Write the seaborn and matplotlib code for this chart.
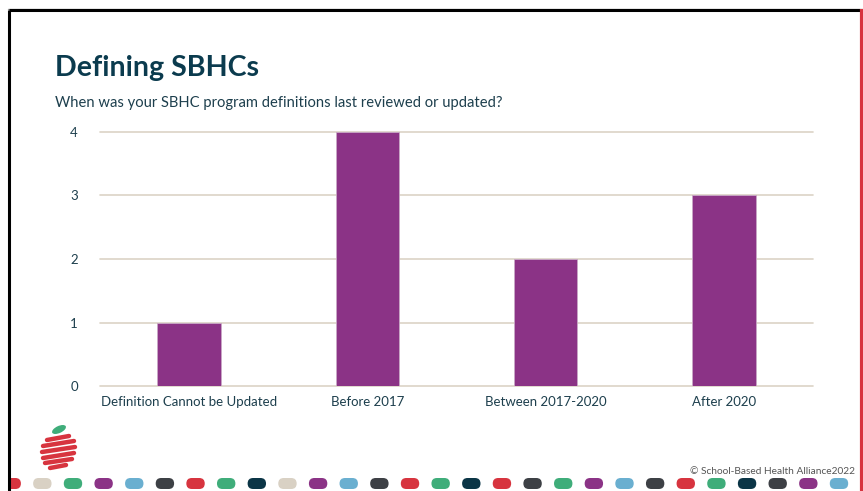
import matplotlib
matplotlib.use("Agg")
import matplotlib.pyplot as plt
import seaborn as sns
import pandas as pd
from matplotlib.patches import FancyBboxPatch, Ellipse

categories = ["Definition Cannot be Updated", "Before 2017", "Between 2017-2020", "After 2020"]
counts = [1, 4, 2, 3]
y_ticks = [0, 1, 2, 3, 4]

dot_colors = ["#d7343f", "#d9d1c4", "#3fad7a", "#8b3386", "#6aafd0", "#3d4045", "#d7343f",
              "#3fad7a", "#0b3546", "#d9d1c4", "#8b3386", "#6aafd0", "#3d4045", "#d7343f",
              "#3fad7a", "#0b3546", "#d7343f", "#3d4045", "#3fad7a", "#8b3386", "#6aafd0",
              "#3d4045", "#d7343f", "#3fad7a", "#0b3546", "#3d4045", "#8b3386", "#6aafd0"]

W, H = 863, 491
sns.set_theme(style="white")
plt.rcParams["font.family"] = ["Lato", "DejaVu Sans"]

fig = plt.figure(figsize=(W / 100, H / 100), dpi=100)
fig.patch.set_facecolor("white")

df = pd.DataFrame({"cat": categories, "n": counts})
ax = fig.add_axes([100 / W, 1 - 386 / H, 713 / W, 254 / H])
sns.barplot(data=df, x="cat", y="n", color="#8b3386", saturation=1, width=0.355, ax=ax)
for p in ax.patches:
    p.set_edgecolor("#c9a8c6")
    p.set_linewidth(0.6)
ax.set_ylim(0, 4)
ax.set_xlim(-0.5, 3.5)
ax.set_yticks(y_ticks)
ax.set_xlabel("")
ax.set_ylabel("")
ax.grid(axis="y", color="#dcd3c6", linewidth=1.2)
ax.set_axisbelow(True)
for g in ax.get_ygridlines():
    g.set_clip_on(False)
sns.despine(ax=ax, left=True, bottom=True)
ax.tick_params(axis="both", length=0, labelsize=9.5, colors="#1d3f4d")
ax.tick_params(axis="y", pad=16)
ax.tick_params(axis="x", pad=7)

# title / subtitle
fig.text(55 / W, 1 - 68 / H, "Defining SBHCs", fontsize=20.6, fontweight="bold",
         color="#0b3b4e", va="center", ha="left")
fig.text(55 / W, 1 - 103 / H, "When was your SBHC program definitions last reviewed or updated?",
         fontsize=10.6, color="#1d3f4d", va="center", ha="left")
fig.text(855 / W, 1 - 471 / H, "\u00a9 School-Based Health Alliance2022", fontsize=7.3,
         color="#555555", va="center", ha="right")

# decoration overlay in pixel coords
deco = fig.add_axes([0, 0, 1, 1], zorder=5)
deco.set_xlim(0, W)
deco.set_ylim(H, 0)
deco.axis("off")
deco.patch.set_alpha(0)
deco.plot([8, 863], [8.5, 8.5], color="#9a9a9a", lw=1)
deco.plot([9, 860], [10, 10], color="black", lw=2.2, solid_capstyle="butt")
deco.plot([9, 9], [10, H], color="black", lw=2.2, solid_capstyle="butt")
deco.plot([861.5, 861.5], [9, H], color="#d7343f", lw=3, solid_capstyle="butt")

# logo: leaf + red stripes
deco.add_patch(Ellipse((59, 429.5), 15, 7, angle=-25, color="#3fad7a", lw=0))
stripes = [(47, 440, 69, 436), (43, 446, 74, 441), (42, 452, 75, 447),
           (43, 458, 74, 453), (45, 463, 72, 459), (50, 468, 66, 465)]
for x0, y0, x1, y1 in stripes:
    deco.plot([x0, x1], [y0, y1], color="#d7343f", lw=3.2, solid_capstyle="round")

# pill dots along the bottom, clipped at the frame
dots = fig.add_axes([10 / W, 0, (W - 10) / W, 1], zorder=4)
dots.set_xlim(10, W)
dots.set_ylim(H, 0)
dots.axis("off")
dots.patch.set_alpha(0)
for i, c in enumerate(dot_colors):
    cx = 11.7 + 30.64 * i
    dots.add_patch(FancyBboxPatch((cx - 9.2, 478), 18.4, 11,
                                  boxstyle="round,pad=0,rounding_size=5.5",
                                  facecolor=c, edgecolor="none", lw=0))

fig.savefig("out.png", dpi=100)
